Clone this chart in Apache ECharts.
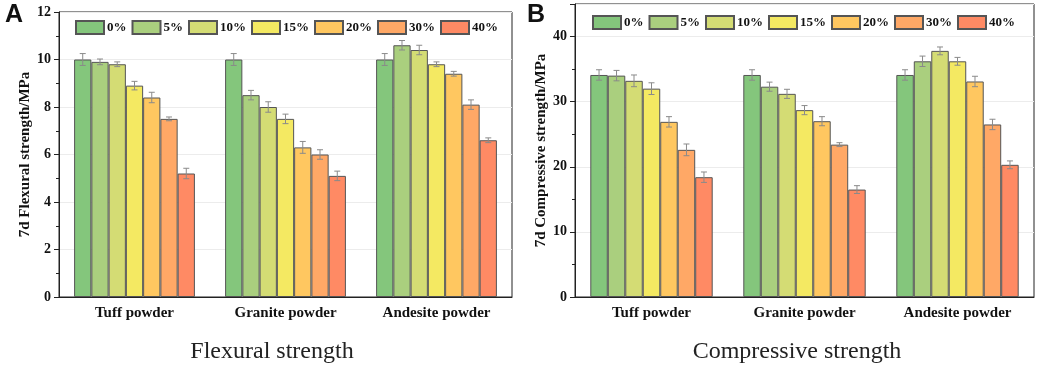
<!DOCTYPE html>
<html>
<head>
<meta charset="utf-8">
<script src="https://cdn.jsdelivr.net/npm/echarts@6/dist/echarts.min.js"></script>
<style>
html,body{margin:0;padding:0;background:#fff;}
#c{width:1038px;height:380px;}
</style>
</head>
<body>
<div id="c"></div>
<script>
var categories = ['Tuff powder', 'Granite powder', 'Andesite powder'];
var dosages = ['0%', '5%', '10%', '15%', '20%', '30%', '40%'];
var colors = ['#84c67c', '#aacf7e', '#d4dc74', '#f4e962', '#ffc760', '#ffa866', '#ff8a64'];

// Flexural strength (MPa), one array per powder, ordered by dosage
var flexTuff     = [10.0, 9.9, 9.8, 8.9, 8.4, 7.5, 5.2];
var flexGranite  = [10.0, 8.5, 8.0, 7.5, 6.3, 6.0, 5.1];
var flexAndesite = [10.0, 10.6, 10.4, 9.8, 9.4, 8.1, 6.6];
var flexErrTuff     = [0.25, 0.12, 0.1, 0.18, 0.22, 0.08, 0.22];
var flexErrGranite  = [0.25, 0.2, 0.22, 0.2, 0.25, 0.2, 0.2];
var flexErrAndesite = [0.25, 0.2, 0.2, 0.1, 0.1, 0.2, 0.1];

// Compressive strength (MPa)
var compTuff     = [34.1, 34.0, 33.2, 32.0, 26.9, 22.6, 18.4];
var compGranite  = [34.1, 32.3, 31.2, 28.7, 27.0, 23.4, 16.5];
var compAndesite = [34.1, 36.2, 37.8, 36.2, 33.1, 26.5, 20.3];
var compErrTuff     = [0.8, 0.8, 0.9, 0.9, 0.8, 0.9, 0.8];
var compErrGranite  = [0.8, 0.7, 0.7, 0.7, 0.7, 0.3, 0.6];
var compErrAndesite = [0.8, 0.8, 0.6, 0.6, 0.8, 0.8, 0.6];

var flexTicks = [0, 2, 4, 6, 8, 10, 12];
var compTicks = [0, 10, 20, 30, 40];

var serif = '"Liberation Serif", "DejaVu Serif", serif';
var GAP = 0.2, N = dosages.length;

function errSeries(idx, gi, vals, errs) {
  return {
    type: 'custom', xAxisIndex: gi, yAxisIndex: gi, z: 10, silent: true,
    data: vals.map(function (v, k) { return [k, v, errs[k]]; }),
    renderItem: function (params, api) {
      var x = api.value(0), v = api.value(1), e = api.value(2);
      var top = api.coord([x, v + e]), bot = api.coord([x, v - e]);
      var band = api.size([1, 0])[0];
      var gw = band * (1 - GAP), bw = gw / N;
      var cx = top[0] - gw / 2 + bw * (idx + 0.5);
      var cap = 3;
      var st = { stroke: '#8a8a8a', lineWidth: 1 };
      return { type: 'group', children: [
        { type: 'line', shape: { x1: cx, y1: top[1], x2: cx, y2: bot[1] }, style: st },
        { type: 'line', shape: { x1: cx - cap, y1: top[1], x2: cx + cap, y2: top[1] }, style: st },
        { type: 'line', shape: { x1: cx - cap, y1: bot[1], x2: cx + cap, y2: bot[1] }, style: st }
      ]};
    }
  };
}

var series = [];
function addPanel(gi, a, b, c, ea, eb, ec) {
  for (var i = 0; i < N; i++) {
    var vals = [a[i], b[i], c[i]];
    var errs = [ea[i], eb[i], ec[i]];
    series.push({
      name: dosages[i], type: 'bar', xAxisIndex: gi, yAxisIndex: gi,
      data: vals, barGap: '0%', barCategoryGap: (GAP * 100) + '%',
      itemStyle: { color: colors[i], borderColor: '#555', borderWidth: 1 }
    });
    series.push(errSeries(i, gi, vals, errs));
  }
}
addPanel(0, flexTuff, flexGranite, flexAndesite, flexErrTuff, flexErrGranite, flexErrAndesite);
addPanel(1, compTuff, compGranite, compAndesite, compErrTuff, compErrGranite, compErrAndesite);

function yAxis(gi, name, max, interval, ticks) {
  return {
    type: 'value', gridIndex: gi, min: 0, max: max, interval: interval,
    name: name, nameLocation: 'middle', nameGap: 22,
    nameTextStyle: { fontFamily: serif, fontWeight: 'bold', fontSize: 15, color: '#111' },
    axisLine: { show: true, lineStyle: { color: '#222', width: 1 } },
    axisTick: { show: true, inside: false, length: 5, lineStyle: { color: '#222' } },
    minorTick: { show: true, splitNumber: 2, length: 3, lineStyle: { color: '#222' } },
    splitLine: { show: true, lineStyle: { color: '#ececec' } },
    axisLabel: {
      fontFamily: serif, fontWeight: 'bold', fontSize: 14, color: '#111', margin: 8,
      formatter: function (v) { return ticks.indexOf(v) >= 0 ? String(v) : ''; }
    }
  };
}
function xAxis(gi) {
  return {
    type: 'category', gridIndex: gi, data: categories,
    axisLine: { lineStyle: { color: '#222' } },
    axisTick: { show: false },
    axisLabel: { fontFamily: serif, fontWeight: 'bold', fontSize: 15, color: '#111', margin: 9 }
  };
}

var legendBase = {
  data: dosages, orient: 'horizontal', icon: 'rect', itemWidth: 28, itemHeight: 13, itemGap: 5,
  textStyle: { fontFamily: serif, fontWeight: 'bold', fontSize: 13, color: '#111', padding: [0, 0, 0, -2] },
  selectedMode: false
};

var option = {
  animation: false,
  backgroundColor: '#fff',
  grid: [
    { left: 59, right: 526, top: 12, bottom: 83, show: true, borderColor: '#222', borderWidth: 1 },
    { left: 575, right: 4, top: 4, bottom: 83, show: true, borderColor: '#222', borderWidth: 1 }
  ],
  legend: [
    Object.assign({}, legendBase, { left: 70, top: 15 }),
    Object.assign({}, legendBase, { left: 587, top: 10 })
  ],
  xAxis: [xAxis(0), xAxis(1)],
  yAxis: [
    yAxis(0, '7d Flexural strength/MPa', 12, 2, flexTicks),
    yAxis(1, '7d Compressive strength/MPa', 45, 10, compTicks)
  ],
  series: series,
  graphic: [
    { type: 'text', left: 5, top: 3, style: { text: 'A', font: 'bold 25px "Liberation Sans", Arial, sans-serif', fill: '#111' } },
    { type: 'text', left: 527, top: 3, style: { text: 'B', font: 'bold 25px "Liberation Sans", Arial, sans-serif', fill: '#111' } },
    { type: 'text', x: 272, y: 352, style: { text: 'Flexural strength', font: '24px "Liberation Serif", serif', fill: '#222', textAlign: 'center', textVerticalAlign: 'middle' } },
    { type: 'text', x: 797, y: 352, style: { text: 'Compressive strength', font: '24px "Liberation Serif", serif', fill: '#222', textAlign: 'center', textVerticalAlign: 'middle' } }
  ]
};
var chart = echarts.init(document.getElementById('c'), null, { renderer: 'canvas' });
chart.setOption(option);
</script>
</body>
</html>
